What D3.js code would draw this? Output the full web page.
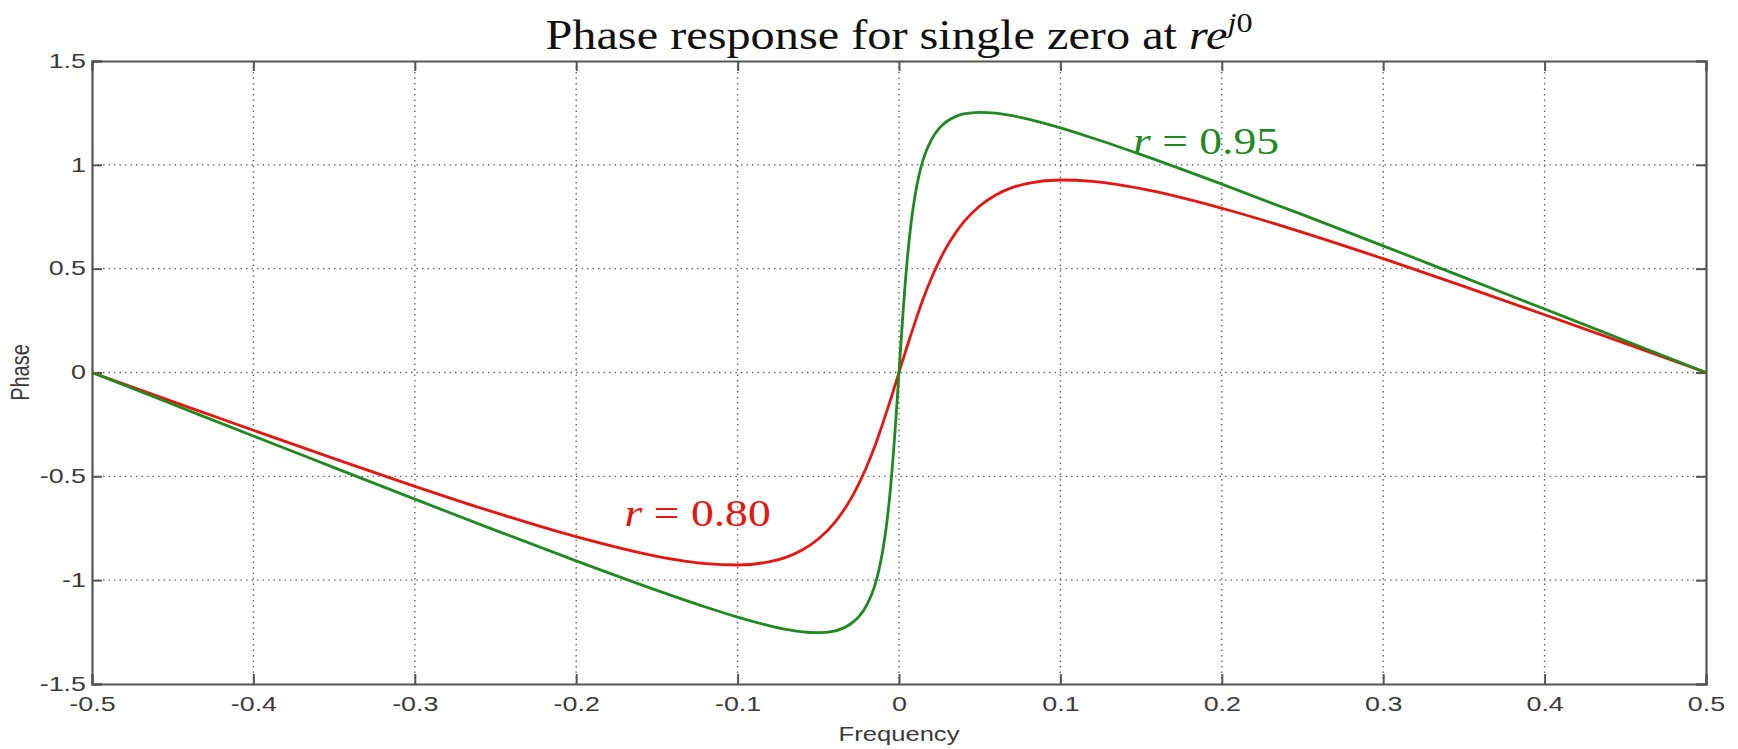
<!DOCTYPE html>
<html>
  <head>
    <meta charset="utf-8">
    <title>Phase response</title>
    <script src="https://d3js.org/d3.v7.min.js"></script>
    <style>
      body { margin: 0; background: white; }
      .tick-label { font-family: "Liberation Sans", Arial, sans-serif; font-size: 21px; fill: #3a3a3a; }
      .axis-title { font-family: "Liberation Sans", Arial, sans-serif; font-size: 20px; fill: #3a3a3a; }
      .serif { font-family: "Liberation Serif", "Times New Roman", serif; }
    </style>
  </head>
  <body>
    <script>
      // frequency samples (denser near zero where the curves turn fast)
      let freqs = [-0.5, -0.45, -0.4, -0.35, -0.3, -0.25, -0.2, -0.15, -0.12, -0.1, -0.08, -0.07, -0.06, -0.05,
                   -0.04, -0.035, -0.03, -0.025, -0.02, -0.015, -0.0125, -0.01, -0.0075, -0.005, -0.0025, 0,
                   0.0025, 0.005, 0.0075, 0.01, 0.0125, 0.015, 0.02, 0.025, 0.03, 0.035, 0.04, 0.05, 0.06,
                   0.07, 0.08, 0.1, 0.12, 0.15, 0.2, 0.25, 0.3, 0.35, 0.4, 0.45, 0.5];
      let phase080 = [0, -0.140, -0.278, -0.415, -0.548, -0.675, -0.791, -0.885, -0.920, -0.927, -0.911, -0.890, -0.855, -0.802,
                      -0.724, -0.672, -0.611, -0.538, -0.453, -0.355, -0.301, -0.244, -0.185, -0.125, -0.063, 0,
                      0.063, 0.125, 0.185, 0.244, 0.301, 0.355, 0.453, 0.538, 0.611, 0.672, 0.724, 0.802, 0.855,
                      0.890, 0.911, 0.927, 0.920, 0.885, 0.791, 0.675, 0.548, 0.415, 0.278, 0.140, 0];
      let phase095 = [0, -0.153, -0.306, -0.458, -0.610, -0.760, -0.907, -1.049, -1.129, -1.178, -1.220, -1.237, -1.249, -1.253,
                      -1.245, -1.232, -1.211, -1.177, -1.120, -1.026, -0.953, -0.855, -0.720, -0.534, -0.289, 0,
                      0.289, 0.534, 0.720, 0.855, 0.953, 1.026, 1.120, 1.177, 1.211, 1.232, 1.245, 1.253, 1.249,
                      1.237, 1.220, 1.178, 1.129, 1.049, 0.907, 0.760, 0.610, 0.458, 0.306, 0.153, 0];
      let xTicks = [-0.5, -0.4, -0.3, -0.2, -0.1, 0, 0.1, 0.2, 0.3, 0.4, 0.5];
      let yTicks = [-1.5, -1, -0.5, 0, 0.5, 1, 1.5];

      let width = 1738, height = 749;
      let margin = {left: 92, right: 32, top: 61, bottom: 65};
      let stretch = 1.28; // the reference text is drawn wide
      let svg = d3.select("body").append("svg").attr("width", width).attr("height", height);

      let x = d3.scaleLinear().domain([-0.5, 0.5]).range([margin.left, width - margin.right]);
      let y = d3.scaleLinear().domain([-1.5, 1.5]).range([height - margin.bottom, margin.top]);

      let axisColor = "#555";
      let tickLen = 10;

      // dotted grid
      let grid = svg.append("g");
      grid.selectAll(".gx").data(xTicks.slice(1, -1)).enter().append("line")
          .attr("x1", d => x(d)).attr("x2", d => x(d))
          .attr("y1", y(1.5)).attr("y2", y(-1.5))
          .attr("stroke", "#666").attr("stroke-width", 1.4).attr("stroke-dasharray", "1.5,4");
      grid.selectAll(".gy").data(yTicks.slice(1, -1)).enter().append("line")
          .attr("y1", d => y(d)).attr("y2", d => y(d))
          .attr("x1", x(-0.5)).attr("x2", x(0.5))
          .attr("stroke", "#666").attr("stroke-width", 1.4).attr("stroke-dasharray", "1.5,4");

      // axes, ticks pointing in, on all four sides
      let fmt = d => String(d);
      let axBottom = d3.axisBottom(x).tickValues(xTicks).tickSize(-tickLen).tickFormat(fmt);
      let axTop = d3.axisTop(x).tickValues(xTicks).tickSize(-tickLen).tickFormat("");
      let axLeft = d3.axisLeft(y).tickValues(yTicks).tickSize(-tickLen).tickFormat(fmt);
      let axRight = d3.axisRight(y).tickValues(yTicks).tickSize(-tickLen).tickFormat("");

      let gb = svg.append("g").attr("transform", `translate(0,${y(-1.5)})`).call(axBottom);
      let gt = svg.append("g").attr("transform", `translate(0,${y(1.5)})`).call(axTop);
      let gl = svg.append("g").attr("transform", `translate(${x(-0.5)},0)`).call(axLeft);
      let gr = svg.append("g").attr("transform", `translate(${x(0.5)},0)`).call(axRight);

      [gb, gt, gl, gr].forEach(g => {
        g.select(".domain").attr("stroke", axisColor).attr("stroke-width", 2.2);
        g.selectAll(".tick line").attr("stroke", axisColor).attr("stroke-width", 2);
        g.selectAll(".tick text").attr("class", "tick-label").attr("fill", null)
            .attr("transform", `scale(${stretch},1)`);
      });
      gb.selectAll(".tick text").attr("dy", "0.9em").attr("y", 8);
      gl.selectAll(".tick text").attr("x", -6 / stretch).attr("dy", "0.3em");

      // phase curves
      let line = d3.line().x(d => x(d[0])).y(d => y(d[1])).curve(d3.curveMonotoneX);
      svg.append("path").datum(freqs.map((f, i) => [f, phase080[i]]))
          .attr("d", line).attr("fill", "none").attr("stroke", "#e8140f").attr("stroke-width", 2.8);
      svg.append("path").datum(freqs.map((f, i) => [f, phase095[i]]))
          .attr("d", line).attr("fill", "none").attr("stroke", "#1f8a1f").attr("stroke-width", 2.8);

      // curve labels
      function rLabel(fx, py, txt, color) {
        let t = svg.append("text").attr("class", "serif")
            .attr("transform", `translate(${x(fx)},${y(py)}) scale(1.2,1)`)
            .attr("font-size", 38).attr("fill", color);
        t.append("tspan").attr("font-style", "italic").text("r");
        t.append("tspan").text(" = " + txt);
      }
      rLabel(0.145, 1.05, "0.95", "#1f8a1f");
      rLabel(-0.17, -0.74, "0.80", "#e8140f");

      // title
      let title = svg.append("text").attr("class", "serif")
          .attr("transform", `translate(${x(0)},49) scale(1.15,1)`)
          .attr("text-anchor", "middle").attr("font-size", 42).attr("fill", "#111");
      title.append("tspan").text("Phase response for single zero at ");
      title.append("tspan").attr("font-style", "italic").text("re");
      title.append("tspan").attr("font-style", "italic").attr("font-size", 28).attr("dy", -17).text("j");
      title.append("tspan").attr("font-size", 28).text("0");

      // axis titles
      svg.append("text").attr("class", "axis-title")
          .attr("transform", `translate(${x(0)},741) scale(${stretch},1)`)
          .attr("text-anchor", "middle").text("Frequency");
      svg.append("text").attr("class", "axis-title")
          .attr("transform", `translate(29,${y(0)}) scale(${stretch},1) rotate(-90)`)
          .attr("text-anchor", "middle").text("Phase");
    </script>
  </body>
</html>
